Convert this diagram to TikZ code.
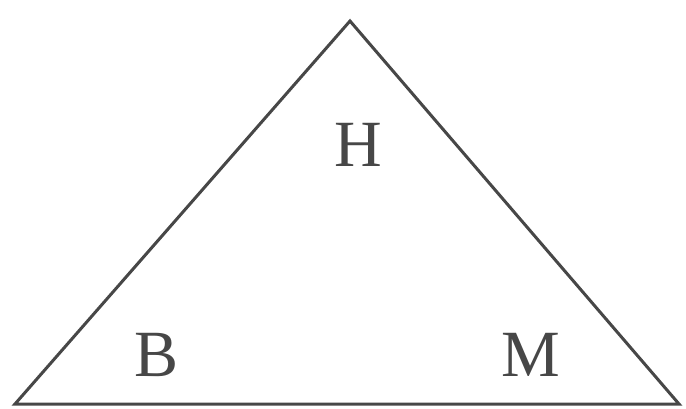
\documentclass[tikz,border=0pt]{standalone}
\usepackage{fontspec}
\setmainfont{Liberation Serif}
\usepackage{tikz}

\begin{document}
\begin{tikzpicture}[
  x=1pt,y=-1pt,
  edgeline/.style={draw=black!72,line width=3pt,line join=miter},
  cornerlabel/.style={font=\fontsize{66}{70}\selectfont,text=black!72,inner sep=0pt}
]
\useasboundingbox (0,0) rectangle (686,409);

% ---- corners of the triangle ----
\coordinate (top) at (350,21);
\coordinate (left) at (15,404);
\coordinate (right) at (679,404);

\draw[edgeline] (top) -- (right) -- (left) -- cycle;

% ---- labels ----
\node[cornerlabel] (labH) at (358,145) {H};
\node[cornerlabel] (labB) at (157,355) {B};
\node[cornerlabel] (labM) at (531,355) {M};

\end{tikzpicture}
\end{document}
